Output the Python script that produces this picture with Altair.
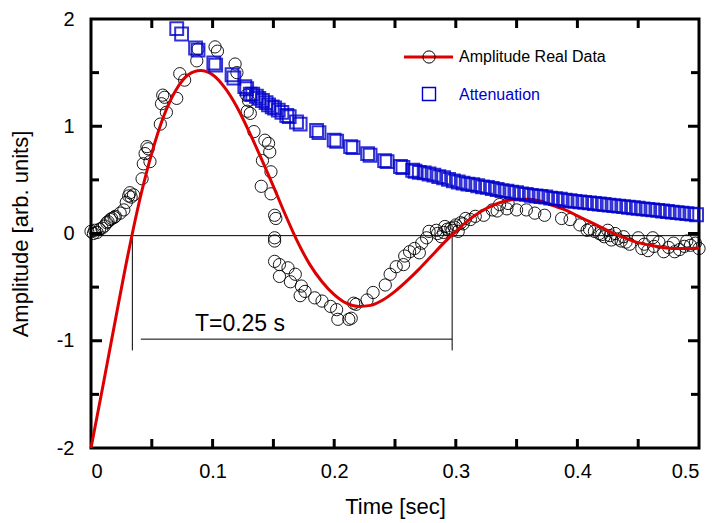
import altair as alt
import pandas as pd

# ---- data ----
circ_t = [0.000, 0.002, 0.003, 0.005, 0.007, 0.009, 0.011, 0.013, 0.014, 0.016, 0.017, 0.019, 0.020,
          0.024, 0.027, 0.029, 0.031, 0.032, 0.033, 0.035,
          0.042, 0.043, 0.0445, 0.046, 0.047, 0.0485,
          0.057, 0.058, 0.059, 0.0605, 0.062, 0.0705, 0.073, 0.077, 0.087, 0.088, 0.102, 0.104,
          0.1185, 0.120, 0.128, 0.1295, 0.1285, 0.131, 0.134, 0.143, 0.146, 0.147, 0.141, 0.148,
          0.140, 0.148, 0.151, 0.152, 0.151, 0.151, 0.151, 0.155, 0.162, 0.155, 0.168, 0.164,
          0.173, 0.176, 0.172, 0.184, 0.190, 0.197, 0.202, 0.203, 0.212, 0.214, 0.216, 0.218,
          0.227, 0.232, 0.242, 0.246, 0.251, 0.257, 0.258, 0.262, 0.266, 0.270, 0.272, 0.276,
          0.278, 0.284, 0.285, 0.288, 0.290, 0.291, 0.293, 0.296, 0.297, 0.299, 0.300, 0.302,
          0.304, 0.306, 0.308, 0.312, 0.316, 0.323, 0.330, 0.334, 0.336, 0.342, 0.343, 0.350,
          0.358, 0.365, 0.373, 0.387, 0.394, 0.402, 0.408, 0.410, 0.414, 0.418, 0.420, 0.422,
          0.425, 0.427, 0.428, 0.431, 0.433, 0.436, 0.438, 0.440, 0.443, 0.450, 0.453, 0.455,
          0.458, 0.462, 0.463, 0.467, 0.471, 0.475, 0.479, 0.480, 0.484, 0.488, 0.490, 0.493,
          0.497, 0.500]
circ_v = [0.02, 0.00, 0.03, 0.01, 0.04, 0.05, 0.07, 0.10, 0.11, 0.13, 0.14, 0.15, 0.16,
          0.19, 0.22, 0.29, 0.35, 0.38, 0.34, 0.36,
          0.51, 0.65, 0.745, 0.81, 0.79, 0.67,
          1.02, 1.21, 1.29, 1.27, 1.13, 1.26, 1.49, 1.43, 1.61, 1.72, 1.74, 1.70,
          1.58, 1.50, 1.29, 1.24, 1.14, 1.12, 0.95, 0.87, 0.84, 0.76, 0.68, 0.575,
          0.44, 0.37, 0.17, 0.14, -0.04, -0.07, -0.26, -0.29, -0.32, -0.40, -0.38, -0.45,
          -0.49, -0.54, -0.58, -0.60, -0.63, -0.68, -0.71, -0.80, -0.80, -0.79, -0.65, -0.66,
          -0.62, -0.55, -0.48, -0.38, -0.31, -0.29, -0.21, -0.17, -0.14, -0.18, -0.09, -0.04,
          0.02, 0.03, 0.00, -0.03, 0.01, 0.065, 0.04, 0.05, 0.03, 0.06, 0.08, 0.02,
          0.10, 0.09, 0.14, 0.13, 0.16, 0.17, 0.22, 0.21, 0.27, 0.23, 0.28, 0.22,
          0.22, 0.19, 0.17, 0.14, 0.13, 0.08, 0.03, 0.04, 0.02, 0.00, -0.01, -0.03,
          0.03, -0.02, -0.06, 0.00, -0.05, -0.07, -0.03, -0.08, -0.10, -0.04, -0.14, -0.10,
          -0.16, -0.04, -0.12, -0.08, -0.17, -0.13, -0.09, -0.17, -0.15, -0.12, -0.07, -0.11,
          -0.09, -0.14]

sq_t = [0.0705, 0.0745, 0.086, 0.088, 0.101, 0.1025, 0.116, 0.1175, 0.1265, 0.128, 0.131, 0.133,
        0.136, 0.138, 0.141, 0.144, 0.146, 0.149, 0.151, 0.154, 0.157, 0.161, 0.163, 0.169,
        0.172, 0.1855, 0.1875, 0.200, 0.202, 0.2135, 0.2155, 0.2275, 0.2295, 0.2415, 0.2435,
        0.2545, 0.2565, 0.2645, 0.2665, 0.270,
        0.274, 0.278, 0.282, 0.286, 0.290, 0.294, 0.298, 0.302, 0.306, 0.310, 0.314, 0.318,
        0.322, 0.326, 0.330, 0.334, 0.338, 0.342, 0.346, 0.350, 0.354, 0.358, 0.362, 0.366,
        0.370, 0.374, 0.378, 0.382, 0.386, 0.390, 0.394, 0.398, 0.402, 0.406, 0.410, 0.414,
        0.418, 0.422, 0.426, 0.430, 0.434, 0.438, 0.442, 0.446, 0.450, 0.454, 0.458, 0.462,
        0.466, 0.470, 0.474, 0.478, 0.482, 0.486, 0.490, 0.494, 0.498]
sq_v = [1.91, 1.86, 1.73, 1.71, 1.59, 1.57, 1.48, 1.45, 1.37, 1.35, 1.30, 1.30,
        1.28, 1.26, 1.24, 1.22, 1.20, 1.18, 1.17, 1.15, 1.13, 1.10, 1.09, 1.04,
        1.02, 0.96, 0.94, 0.87, 0.86, 0.81, 0.80, 0.745, 0.73, 0.68, 0.67,
        0.625, 0.615, 0.59, 0.58, 0.57,
        0.565, 0.555, 0.545, 0.53, 0.52, 0.505, 0.49, 0.48, 0.47, 0.46, 0.455, 0.445,
        0.435, 0.43, 0.42, 0.41, 0.40, 0.395, 0.385, 0.38, 0.37, 0.365, 0.355, 0.35,
        0.345, 0.34, 0.33, 0.325, 0.32, 0.31, 0.305, 0.30, 0.295, 0.29, 0.285, 0.28,
        0.275, 0.27, 0.265, 0.26, 0.255, 0.25, 0.245, 0.24, 0.235, 0.23, 0.225, 0.22,
        0.215, 0.21, 0.205, 0.20, 0.195, 0.19, 0.185, 0.18, 0.175]

fit_t = [0.00, 0.01, 0.02, 0.03, 0.04, 0.05, 0.06, 0.07, 0.08, 0.09, 0.10, 0.11, 0.12, 0.13,
         0.14, 0.15, 0.16, 0.17, 0.18, 0.19, 0.20, 0.21, 0.22, 0.23, 0.24, 0.25, 0.26, 0.27,
         0.28, 0.29, 0.30, 0.31, 0.32, 0.33, 0.34, 0.35, 0.36, 0.37, 0.38, 0.39, 0.40, 0.41,
         0.42, 0.43, 0.44, 0.45, 0.46, 0.47, 0.48, 0.49, 0.50]
fit_v = [-2.00, -1.41, -0.81, -0.22, 0.31, 0.75, 1.10, 1.34, 1.48, 1.52, 1.48, 1.36, 1.18, 0.95,
         0.70, 0.44, 0.17, -0.08, -0.29, -0.45, -0.57, -0.65, -0.68, -0.67, -0.62, -0.54, -0.44, -0.33,
         -0.21, -0.09, 0.02, 0.12, 0.20, 0.26, 0.30, 0.32, 0.32, 0.30, 0.26, 0.22, 0.165, 0.11,
         0.055, 0.00, -0.045, -0.085, -0.11, -0.13, -0.14, -0.14, -0.135]

x_labels = [0, 0.1, 0.2, 0.3, 0.4, 0.5]
y_labels = [-2, -1, 0, 1, 2]
x_minor = [0.05, 0.1, 0.15, 0.2, 0.25, 0.3, 0.35, 0.4, 0.45]
y_major_in = [-1, 0, 1]
y_minor = [-1.5, -0.5, 0.5, 1.5]

period_t = [0.034, 0.297]
period_label = "T=0.25 s"

W, H = 608, 429
FONT = "Liberation Sans"
RED = "#DD0000"
BLUE = "#0000CC"

xs = alt.Scale(domain=[0, 0.5], nice=False, zero=False)
ys = alt.Scale(domain=[-2, 2], nice=False, zero=False)
xax = alt.Axis(values=x_labels, title="Time [sec]", ticks=False, tickSize=0, domain=False,
               grid=False, labelPadding=13, titlePadding=15, labelExpr="'' + datum.value")
yax = alt.Axis(values=y_labels, title="Amplitude [arb. units]", ticks=False, tickSize=0,
               domain=False, grid=False, labelPadding=17, titlePadding=24,
               labelExpr="'' + datum.value")


def X(f="t"):
    return alt.X(f + ":Q", scale=xs, axis=xax)


def Y(f="v"):
    return alt.Y(f + ":Q", scale=ys, axis=yax)


circ_df = pd.DataFrame({"t": circ_t, "v": circ_v})
sq_df = pd.DataFrame({"t": sq_t, "v": sq_v})
fit_df = pd.DataFrame({"t": fit_t, "v": fit_v})

circles = alt.Chart(circ_df).mark_point(
    shape="circle", filled=False, size=150, color="black", strokeWidth=1, opacity=0.9
).encode(x=X(), y=Y())

fit = alt.Chart(fit_df).mark_line(color=RED, strokeWidth=3, interpolate="monotone").encode(
    x=X(), y=Y())

squares = alt.Chart(sq_df).mark_point(
    shape="square", filled=False, size=165, color=BLUE, strokeWidth=2, opacity=0.8
).encode(x=X(), y=Y())

# zero line
zero_df = pd.DataFrame({"t": [0.0], "t2": [0.5], "v": [-0.02]})
zero_line = alt.Chart(zero_df).mark_rule(color="black", strokeWidth=1).encode(
    x=X(), x2="t2:Q", y=Y())

# period markers
vert_df = pd.DataFrame({"t": period_t, "v": [-0.02, -0.02], "v2": [-1.09, -1.09]})
verts = alt.Chart(vert_df).mark_rule(color="black", strokeWidth=1).encode(
    x=X(), y=Y(), y2="v2:Q")
hline_df = pd.DataFrame({"t": [0.041], "t2": [period_t[1]], "v": [-0.985]})
hline = alt.Chart(hline_df).mark_rule(color="black", strokeWidth=1).encode(
    x=X(), x2="t2:Q", y=Y())
ptext_df = pd.DataFrame({"t": [0.1225], "v": [-0.91], "label": [period_label]})
ptext = alt.Chart(ptext_df).mark_text(
    font=FONT, fontSize=23, color="black", align="center", baseline="alphabetic"
).encode(x=X(), y=Y(), text="label:N")

# inward ticks
xt_df = pd.DataFrame({"t": x_minor})
xt_bottom = alt.Chart(xt_df).mark_rule(color="black", strokeWidth=3).encode(
    x=X(), y=alt.value(H), y2=alt.value(H - 9))
xt_top = alt.Chart(xt_df).mark_rule(color="black", strokeWidth=3).encode(
    x=X(), y=alt.value(0), y2=alt.value(9))
ymaj_df = pd.DataFrame({"v": y_major_in})
ymin_df = pd.DataFrame({"v": y_minor})
yt = []
for df, L in ((ymaj_df, 11), (ymin_df, 8)):
    yt.append(alt.Chart(df).mark_rule(color="black", strokeWidth=3).encode(
        y=Y(), x=alt.value(0), x2=alt.value(L)))
    yt.append(alt.Chart(df).mark_rule(color="black", strokeWidth=3).encode(
        y=Y(), x=alt.value(W), x2=alt.value(W - L)))

# legend (drawn manually)
one = pd.DataFrame({"a": [0]})
leg_line = alt.Chart(one).mark_rule(color=RED, strokeWidth=3).encode(
    x=alt.value(313), x2=alt.value(362), y=alt.value(38))
leg_circ = alt.Chart(one).mark_point(
    shape="circle", filled=False, size=150, color="black", strokeWidth=1, opacity=1
).encode(x=alt.value(338), y=alt.value(38))
leg_sq = alt.Chart(one).mark_point(
    shape="square", filled=False, size=170, color=BLUE, strokeWidth=1.4, opacity=1
).encode(x=alt.value(338), y=alt.value(75))
leg_t1 = alt.Chart(pd.DataFrame({"label": ["Amplitude Real Data"]})).mark_text(
    font=FONT, fontSize=16, color="black", align="left", baseline="middle"
).encode(x=alt.value(368), y=alt.value(38), text="label:N")
leg_t2 = alt.Chart(pd.DataFrame({"label": ["Attenuation"]})).mark_text(
    font=FONT, fontSize=16, color=BLUE, align="left", baseline="middle"
).encode(x=alt.value(368), y=alt.value(76), text="label:N")

chart = alt.layer(
    circles, zero_line, verts, hline, ptext, fit, squares,
    xt_bottom, xt_top, *yt,
    leg_line, leg_circ, leg_sq, leg_t1, leg_t2,
).properties(
    width=W, height=H,
    autosize=alt.AutoSizeParams(type="none"),
    padding={"left": 83, "top": 11, "right": 10, "bottom": 75},
).configure_view(
    stroke="black", strokeWidth=3
).configure_axis(
    labelFont=FONT, labelFontSize=20, labelColor="black",
    titleFont=FONT, titleFontSize=22, titleFontWeight="normal", titleColor="black",
)

chart.save("out.html", embed_options={"renderer": "svg", "actions": False})
